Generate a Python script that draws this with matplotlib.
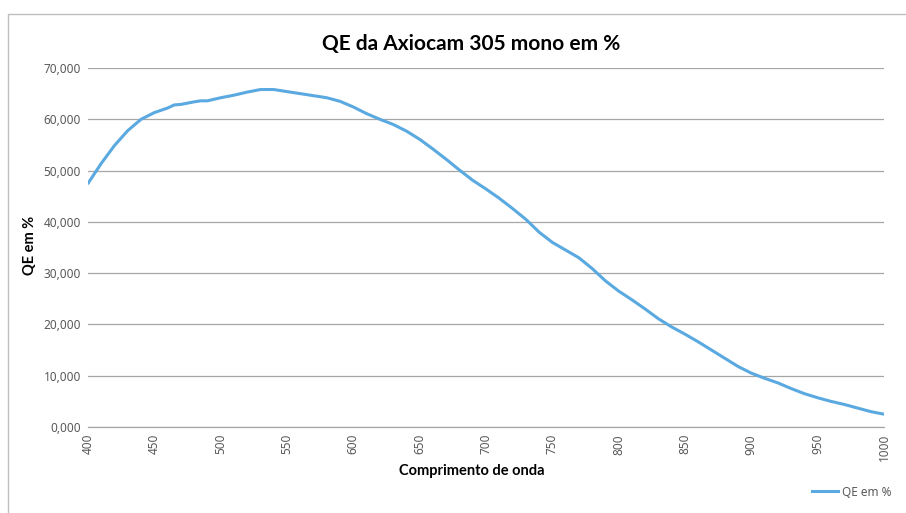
import matplotlib.pyplot as plt
from matplotlib.patches import Rectangle
from matplotlib.lines import Line2D

plt.rcParams["font.family"] = ["Noto Sans", "DejaVu Sans"]
bold_font = ["Lato", "DejaVu Sans"]

wavelength = [400, 410, 420, 430, 440, 450, 460, 465, 470, 480, 485, 490, 500,
              510, 520, 530, 540, 550, 560, 570, 580, 590, 600, 610, 620, 630,
              640, 650, 660, 670, 680, 690, 700, 710, 720, 730, 740, 750, 760,
              770, 780, 790, 800, 810, 820, 830, 840, 850, 860, 870, 880, 890,
              900, 910, 920, 930, 940, 950, 960, 970, 980, 990, 1000]
qe = [47.5, 51.4, 54.9, 57.8, 60.0, 61.3, 62.2, 62.8, 62.9, 63.4, 63.6, 63.6, 64.2,
      64.7, 65.3, 65.8, 65.8, 65.4, 65.0, 64.6, 64.2, 63.5, 62.4, 61.1, 60.0, 59.0,
      57.7, 56.1, 54.2, 52.2, 50.1, 48.1, 46.4, 44.6, 42.6, 40.5, 38.0, 36.0, 34.5,
      33.0, 30.9, 28.5, 26.5, 24.8, 23.0, 21.1, 19.5, 18.1, 16.6, 15.0, 13.4, 11.8,
      10.5, 9.5, 8.6, 7.5, 6.5, 5.7, 5.0, 4.4, 3.7, 3.0, 2.5]

x_ticks = list(range(400, 1001, 50))
y_ticks = [0, 10, 20, 30, 40, 50, 60, 70]
y_labels = [f"{v},000" for v in y_ticks]

line_color = "#5aa9e0"
text_gray = "#595959"

fig = plt.figure(figsize=(9.06, 5.13), dpi=100)
ax = fig.add_axes([88 / 906, 1 - 427 / 513, (884 - 88) / 906, (427 - 68) / 513])

ax.plot(wavelength, qe, color=line_color, lw=2.2, solid_capstyle="round")

ax.set_xlim(400, 1000)
ax.set_ylim(0, 70)
ax.set_xticks(x_ticks)
ax.set_xticklabels([str(t) for t in x_ticks], rotation=90, fontsize=8.5, color=text_gray)
ax.set_yticks(y_ticks)
ax.set_yticklabels(y_labels, fontsize=8.5, color=text_gray)
ax.tick_params(length=0, pad=5)
ax.yaxis.grid(True, color="#a6a6a6", lw=0.9)
ax.set_axisbelow(True)
for side in ["top", "right", "left"]:
    ax.spines[side].set_visible(False)
ax.spines["bottom"].set_color("#a6a6a6")
ax.spines["bottom"].set_linewidth(0.9)

fig.text(471 / 906, 1 - 44 / 513, "QE da Axiocam 305 mono em %", ha="center", va="center",
         fontsize=15, fontweight="bold", color="black", family=bold_font)
fig.text(472 / 906, 1 - 471 / 513, "Comprimento de onda", ha="center", va="center",
         fontsize=10.5, fontweight="bold", family=bold_font)
fig.text(30 / 906, 1 - 245 / 513, "QE em %", ha="center", va="center", rotation=90,
         fontsize=10.5, fontweight="bold", family=bold_font)

legend_elements = [Line2D([0], [0], color=line_color, lw=2.2, label="QE em %")]
fig.legend(handles=legend_elements, loc="center right", bbox_to_anchor=(892 / 906, 1 - 492 / 513),
           frameon=False, fontsize=8.5, handlelength=2.2, handletextpad=0.4, labelcolor=text_gray,
           borderaxespad=0, borderpad=0)

fig.patches.append(Rectangle((8 / 906, -0.05), 1.0, 1 - 14 / 513 + 0.05, transform=fig.transFigure,
                             fill=False, edgecolor="#bfbfbf", lw=1.0))

fig.savefig("out.png", dpi=100)
